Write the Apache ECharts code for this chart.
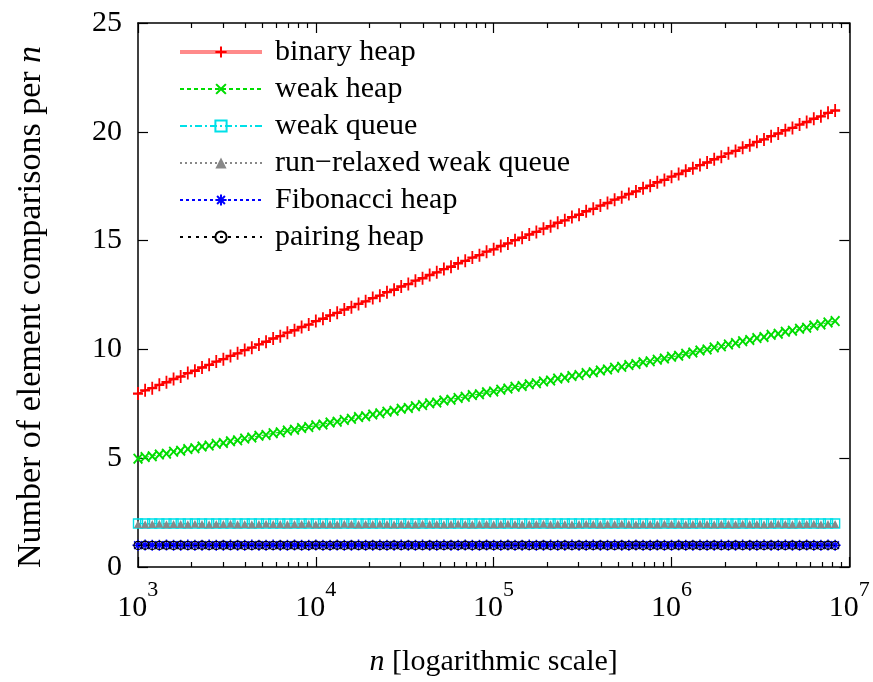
<!DOCTYPE html>
<html lang="en">
	<head>
		<meta charset="UTF-8">
		<title>Element comparisons per n</title>
		<style type="text/css">
			html,
			body,
			.canvas {
				padding: 0;
				margin: 0;
				background-color: #fff;
				width: 873px;
				height: 682px;
			}
		</style>
	</head>
	<body>
		<div class="canvas" id="chart"></div>
		<script type="text/javascript" src="https://cdn.jsdelivr.net/npm/echarts@6/dist/echarts.min.js"></script>
		<script>
			// x positions as log10(n)
			const logN = [
				3.00, 3.04, 3.08, 3.12, 3.16, 3.20, 3.24, 3.28, 3.32, 3.36,
				3.40, 3.44, 3.48, 3.52, 3.56, 3.60, 3.64, 3.68, 3.72, 3.76,
				3.80, 3.84, 3.88, 3.92, 3.96, 4.00, 4.04, 4.08, 4.12, 4.16,
				4.20, 4.24, 4.28, 4.32, 4.36, 4.40, 4.44, 4.48, 4.52, 4.56,
				4.60, 4.64, 4.68, 4.72, 4.76, 4.80, 4.84, 4.88, 4.92, 4.96,
				5.00, 5.04, 5.08, 5.12, 5.16, 5.20, 5.24, 5.28, 5.32, 5.36,
				5.40, 5.44, 5.48, 5.52, 5.56, 5.60, 5.64, 5.68, 5.72, 5.76,
				5.80, 5.84, 5.88, 5.92, 5.96, 6.00, 6.04, 6.08, 6.12, 6.16,
				6.20, 6.24, 6.28, 6.32, 6.36, 6.40, 6.44, 6.48, 6.52, 6.56,
				6.60, 6.64, 6.68, 6.72, 6.76, 6.80, 6.84, 6.88, 6.92
			];
			const binaryHeap = [
				7.97, 8.12, 8.22, 8.37, 8.49, 8.64, 8.75, 8.91, 9.02, 9.17,
				9.29, 9.44, 9.55, 9.70, 9.82, 9.97, 10.08, 10.23, 10.35, 10.50,
				10.61, 10.77, 10.88, 11.03, 11.14, 11.30, 11.41, 11.56, 11.68, 11.83,
				11.94, 12.09, 12.21, 12.36, 12.47, 12.63, 12.74, 12.89, 13.00, 13.16,
				13.27, 13.42, 13.54, 13.69, 13.80, 13.96, 14.07, 14.22, 14.33, 14.49,
				14.60, 14.75, 14.87, 15.02, 15.13, 15.28, 15.40, 15.55, 15.66, 15.82,
				15.93, 16.08, 16.19, 16.35, 16.46, 16.61, 16.73, 16.88, 16.99, 17.14,
				17.26, 17.41, 17.52, 17.68, 17.79, 17.94, 18.06, 18.21, 18.32, 18.47,
				18.59, 18.74, 18.85, 19.01, 19.12, 19.27, 19.38, 19.54, 19.65, 19.80,
				19.92, 20.07, 20.18, 20.33, 20.45, 20.60, 20.71, 20.87, 20.98
			];
			const weakHeap = [
				4.98, 5.05, 5.09, 5.17, 5.21, 5.30, 5.34, 5.42, 5.46, 5.54,
				5.58, 5.66, 5.70, 5.78, 5.82, 5.90, 5.95, 6.03, 6.07, 6.15,
				6.19, 6.27, 6.31, 6.39, 6.43, 6.51, 6.55, 6.64, 6.68, 6.76,
				6.81, 6.89, 6.93, 7.01, 7.06, 7.14, 7.18, 7.27, 7.31, 7.39,
				7.44, 7.52, 7.56, 7.65, 7.69, 7.77, 7.82, 7.90, 7.94, 8.03,
				8.07, 8.15, 8.20, 8.28, 8.32, 8.40, 8.45, 8.53, 8.57, 8.66,
				8.70, 8.78, 8.82, 8.91, 8.95, 9.03, 9.08, 9.16, 9.20, 9.28,
				9.33, 9.41, 9.45, 9.53, 9.58, 9.66, 9.71, 9.80, 9.86, 9.95,
				10.00, 10.09, 10.14, 10.23, 10.29, 10.38, 10.43, 10.52, 10.57, 10.67,
				10.72, 10.81, 10.86, 10.95, 11.00, 11.10, 11.15, 11.24, 11.30
			];
			const weakQueue = [
				2.00, 2.00, 2.00, 2.00, 2.00, 2.00, 2.00, 2.00, 2.00, 2.00,
				2.00, 2.00, 2.00, 2.00, 2.00, 2.00, 2.00, 2.00, 2.00, 2.00,
				2.00, 2.00, 2.00, 2.00, 2.00, 2.00, 2.00, 2.00, 2.00, 2.00,
				2.00, 2.00, 2.00, 2.00, 2.00, 2.00, 2.00, 2.00, 2.00, 2.00,
				2.00, 2.00, 2.00, 2.00, 2.00, 2.00, 2.00, 2.00, 2.00, 2.00,
				2.00, 2.00, 2.00, 2.00, 2.00, 2.00, 2.00, 2.00, 2.00, 2.00,
				2.00, 2.00, 2.00, 2.00, 2.00, 2.00, 2.00, 2.00, 2.00, 2.00,
				2.00, 2.00, 2.00, 2.00, 2.00, 2.00, 2.00, 2.00, 2.00, 2.00,
				2.00, 2.00, 2.00, 2.00, 2.00, 2.00, 2.00, 2.00, 2.00, 2.00,
				2.00, 2.00, 2.00, 2.00, 2.00, 2.00, 2.00, 2.00, 2.00
			];
			const runRelaxed = [
				1.98, 1.97, 1.98, 1.99, 1.97, 1.98, 1.98, 1.97, 1.99, 1.98,
				1.97, 1.98, 1.98, 1.99, 1.97, 1.98, 1.97, 1.98, 1.99, 1.98,
				1.98, 1.97, 1.98, 1.98, 1.99, 1.97, 1.98, 1.98, 1.97, 1.99,
				1.98, 1.97, 1.98, 1.98, 1.99, 1.98, 1.97, 1.98, 1.98, 1.97,
				1.99, 1.98, 1.98, 1.97, 1.98, 1.99, 1.98, 1.97, 1.98, 1.98,
				1.97, 1.98, 1.99, 1.98, 1.97, 1.98, 1.98, 1.99, 1.97, 1.98,
				1.98, 1.97, 1.98, 1.99, 1.98, 1.97, 1.98, 1.98, 1.99, 1.98,
				1.97, 1.98, 1.98, 1.97, 1.99, 1.98, 1.98, 1.97, 1.98, 1.99,
				1.98, 1.97, 1.98, 1.98, 1.97, 1.99, 1.98, 1.98, 1.97, 1.98,
				1.99, 1.98, 1.97, 1.98, 1.98, 1.99, 1.97, 1.98, 1.98
			];
			const fibonacciHeap = [
				1.00, 1.01, 1.00, 1.00, 1.01, 1.00, 1.00, 1.01, 1.00, 1.00,
				1.01, 1.00, 1.00, 1.01, 1.00, 1.00, 1.01, 1.00, 1.00, 1.01,
				1.00, 1.00, 1.01, 1.00, 1.00, 1.01, 1.00, 1.00, 1.01, 1.00,
				1.00, 1.01, 1.00, 1.00, 1.01, 1.00, 1.00, 1.01, 1.00, 1.00,
				1.01, 1.00, 1.00, 1.01, 1.00, 1.00, 1.01, 1.00, 1.00, 1.01,
				1.00, 1.00, 1.01, 1.00, 1.00, 1.01, 1.00, 1.00, 1.01, 1.00,
				1.00, 1.01, 1.00, 1.00, 1.01, 1.00, 1.00, 1.01, 1.00, 1.00,
				1.01, 1.00, 1.00, 1.01, 1.00, 1.00, 1.01, 1.00, 1.00, 1.01,
				1.00, 1.00, 1.01, 1.00, 1.00, 1.01, 1.00, 1.00, 1.01, 1.00,
				1.00, 1.01, 1.00, 1.00, 1.01, 1.00, 1.00, 1.01, 1.00
			];
			const pairingHeap = [
				0.99, 1.00, 0.99, 0.99, 1.00, 0.99, 1.00, 0.99, 0.99, 1.00,
				0.99, 0.99, 1.00, 0.99, 1.00, 0.99, 0.99, 1.00, 0.99, 0.99,
				1.00, 0.99, 1.00, 0.99, 0.99, 1.00, 0.99, 0.99, 1.00, 0.99,
				1.00, 0.99, 0.99, 1.00, 0.99, 0.99, 1.00, 0.99, 1.00, 0.99,
				0.99, 1.00, 0.99, 0.99, 1.00, 0.99, 1.00, 0.99, 0.99, 1.00,
				0.99, 0.99, 1.00, 0.99, 1.00, 0.99, 0.99, 1.00, 0.99, 0.99,
				1.00, 0.99, 1.00, 0.99, 0.99, 1.00, 0.99, 0.99, 1.00, 0.99,
				1.00, 0.99, 0.99, 1.00, 0.99, 0.99, 1.00, 0.99, 1.00, 0.99,
				0.99, 1.00, 0.99, 0.99, 1.00, 0.99, 1.00, 0.99, 0.99, 1.00,
				0.99, 0.99, 1.00, 0.99, 1.00, 0.99, 0.99, 1.00, 0.99
			];
			const seriesNames = ['binary heap', 'weak heap', 'weak queue', 'run\u2212relaxed weak queue', 'Fibonacci heap', 'pairing heap'];
			const xDecades = [3, 4, 5, 6, 7];
			const yTicks = [0, 5, 10, 15, 20, 25];

			// minor log ticks 2..9 inside each decade
			const minorTicks = [];
			xDecades.slice(0, -1).forEach(function(d) {
				for (let m = 2; m <= 9; m++) minorTicks.push(d + Math.log10(m));
			});

			const FONT = '"Liberation Serif", "DejaVu Serif", serif';
			const PLUS = 'path://M4.1,0H5.9V4.1H10V5.9H5.9V10H4.1V5.9H0V4.1H4.1Z';
			const CROSS = 'path://M0,1.3L1.3,0L5,3.7L8.7,0L10,1.3L6.3,5L10,8.7L8.7,10L5,6.3L1.3,10L0,8.7L3.7,5Z';
			const STAR = 'path://M5,0V10M0,5H10M1.5,1.5L8.5,8.5M8.5,1.5L1.5,8.5';

			function pairs(vals) {
				return logN.map(function(x, i) { return [x, vals[i]]; });
			}

			function xAxisCfg(pos, minor, withLabels) {
				return {
					type: 'value',
					position: pos,
					min: 3,
					max: 7,
					interval: 1,
					axisLine: { show: !minor, lineStyle: { color: '#000', width: 1.5 } },
					axisTick: minor ?
						{ show: true, inside: true, length: 5, customValues: minorTicks, lineStyle: { color: '#000', width: 1.2 } } :
						{ show: true, inside: true, length: 10, lineStyle: { color: '#000', width: 1.2 } },
					axisLabel: withLabels ? {
						margin: 12,
						// "10" with a raised exponent; the h token only sets the line height
						formatter: function(v) { return '{b|10}{s|' + v + '}{h| }'; },
						rich: {
							b: { fontFamily: FONT, fontSize: 30, color: '#000', lineHeight: 30, verticalAlign: 'bottom' },
							s: { fontFamily: FONT, fontSize: 22, color: '#000', lineHeight: 22, verticalAlign: 'top' },
							h: { fontSize: 1, lineHeight: 44, verticalAlign: 'middle' }
						}
					} : { show: false },
					splitLine: { show: false }
				};
			}

			const xAxes = [xAxisCfg('bottom', false, true), xAxisCfg('bottom', true, false), xAxisCfg('top', false, false), xAxisCfg('top', true, false)];
			xAxes[0].name = '{i|n} [logarithmic scale]';
			xAxes[0].nameLocation = 'middle';
			xAxes[0].nameGap = 80;
			xAxes[0].nameTextStyle = {
				fontFamily: FONT, fontSize: 30, color: '#000',
				rich: {
					i: { fontFamily: FONT, fontSize: 30, fontStyle: 'italic', color: '#000' }
				}
			};

			function yAxisCfg(pos, withLabels) {
				return {
					type: 'value',
					position: pos,
					min: yTicks[0],
					max: yTicks[yTicks.length - 1],
					interval: 5,
					axisLine: { show: true, lineStyle: { color: '#000', width: 1.5 } },
					axisTick: { show: true, inside: true, length: 10, lineStyle: { color: '#000', width: 1.2 } },
					axisLabel: withLabels ? { margin: 16, fontFamily: FONT, fontSize: 30, color: '#000' } : { show: false },
					splitLine: { show: false }
				};
			}
			const yAxes = [yAxisCfg('left', true), yAxisCfg('right', false)];
			yAxes[0].name = '{t|Number of element comparisons per }{i|n}';
			yAxes[0].nameLocation = 'middle';
			yAxes[0].nameGap = 90;
			yAxes[0].nameTextStyle = {
				fontFamily: FONT, fontSize: 34, color: '#000',
				padding: [0, 24, 0, 0],
				rich: {
					t: { fontFamily: FONT, fontSize: 34, color: '#000' },
					i: { fontFamily: FONT, fontSize: 34, fontStyle: 'italic', color: '#000' }
				}
			};

			const styles = [
				{ color: '#ff0000', symbol: PLUS, size: [10, 13], line: 'solid', width: 1.5, bw: 0 },
				{ color: '#00dd00', symbol: CROSS, size: [10, 11], line: [4, 3], width: 1, bw: 0 },
				{ color: '#00e0e8', symbol: 'rect', size: 9, line: [7, 3, 2, 3], width: 1, bw: 1.4 },
				{ color: '#888888', symbol: 'triangle', size: 8, line: [2, 3], width: 1, bw: 0 },
				{ color: '#0000ff', symbol: STAR, size: 11, line: [3, 3], width: 1, bw: 1.5 },
				{ color: '#000000', symbol: 'circle', size: 8, line: [3, 5], width: 1, bw: 1.3 }
			];
			const values = [binaryHeap, weakHeap, weakQueue, runRelaxed, fibonacciHeap, pairingHeap];

			const series = seriesNames.map(function(name, k) {
				const s = styles[k];
				const hollow = s.symbol === 'rect' || s.symbol === 'circle';
				return {
					name: name,
					type: 'line',
					xAxisIndex: 0,
					yAxisIndex: 0,
					data: pairs(values[k]),
					symbol: s.symbol,
					symbolSize: s.size,
					showAllSymbol: true,
					animation: false,
					itemStyle: { color: hollow ? 'rgba(0,0,0,0)' : s.color, borderColor: s.color, borderWidth: s.bw },
					lineStyle: { color: s.color, type: s.line, width: s.width },
					z: 2 + k
				};
			});

			// the binary heap key line is drawn as a broad light red stroke
			const legendData = seriesNames.map(function(name, k) {
				if (k === 0) return { name: name, lineStyle: { color: '#ff8a8a', width: 4 } };
				return { name: name };
			});

			const chart = echarts.init(document.getElementById('chart'), null, { renderer: 'canvas' });
			chart.setOption({
				backgroundColor: '#fff',
				animation: false,
				grid: { left: 138, right: 23, top: 23, bottom: 114, containLabel: false },
				legend: {
					orient: 'vertical',
					left: 173,
					top: 31,
					itemWidth: 82,
					itemHeight: 14,
					itemGap: 5,
					data: legendData,
					textStyle: { fontFamily: FONT, fontSize: 30, color: '#000', lineHeight: 32, padding: [0, 0, 0, 8] }
				},
				xAxis: xAxes,
				yAxis: yAxes,
				series: series
			});
		</script>
	</body>
</html>
